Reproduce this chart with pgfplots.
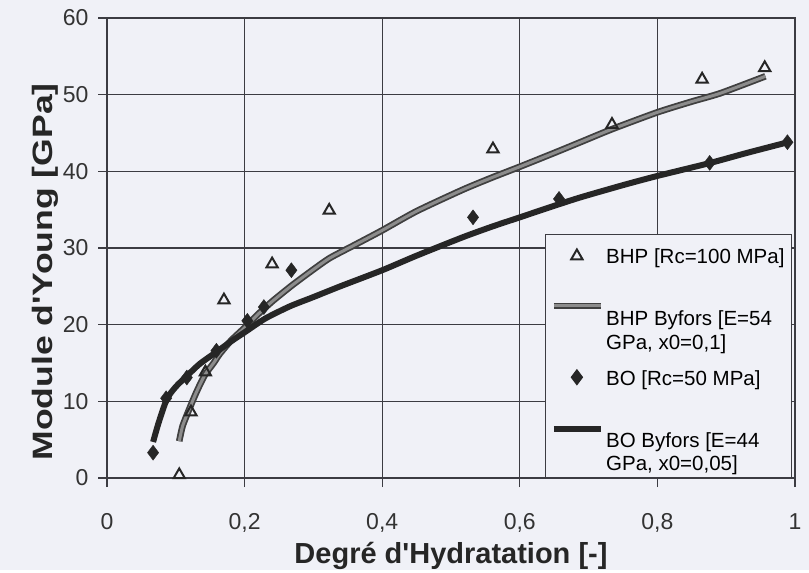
\documentclass[border=0pt]{standalone}
\usepackage{fontspec}
\setmainfont{Liberation Sans}[Ligatures=TeXOff]
\usepackage{graphicx}
\usepackage{pgfplots}
\pgfplotsset{compat=1.18}
\definecolor{bgcol}{RGB}{240,241,247}
\definecolor{gridc}{RGB}{60,60,66}
\pgfplotsset{
  bhpcurve/.style={color=black!75, line width=1.8pt, double=black!45, double distance=3pt, mark=none},
  bocurve/.style={color=black!85, line width=6pt, mark=none},
  bhpmark/.style={only marks, color=black!85, mark=triangle, mark size=6.5pt, line width=2pt, mark options={fill=bgcol, line width=2pt, solid}},
  bomark/.style={only marks, color=black!85, mark=diamond*, mark size=7.5pt, mark options={fill=black!85, solid}},
  ltri/.style={legend image code/.code={\path[draw=none,fill=none] (0pt,0pt) -- (0pt,18.5pt); \draw[##1] plot coordinates {(25pt,0pt)};}},
  ldia/.style={legend image code/.code={\path[draw=none,fill=none] (0pt,0pt) -- (0pt,24pt); \draw[##1] plot coordinates {(25pt,0pt)};}},
  lgray/.style={legend image code/.code={\path[draw=none,fill=none] (0pt,0pt) -- (0pt,50.25pt); \draw[##1] (2pt,12pt) -- (49pt,12pt);}},
  lblack/.style={legend image code/.code={\path[draw=none,fill=none] (0pt,0pt) -- (0pt,50.25pt); \draw[##1] (2pt,10pt) -- (49pt,10pt);}},
}
\begin{document}
\begin{tikzpicture}
\fill[bgcol] (-107pt,-92pt) rectangle (702pt,478pt);
\begin{axis}[
  at={(0pt,0pt)}, anchor=south west,
  scale only axis, width=688pt, height=460pt,
  xmin=0, xmax=1, ymin=0, ymax=60,
  xtick={0,0.2,0.4,0.6,0.8,1},
  xticklabels={0,{0,2},{0,4},{0,6},{0,8},1},
  ytick={0,10,20,30,40,50,60},
  yticklabels={0,10,20,30,40,50,60},
  tick pos=left, tick align=outside, major tick length=9pt,
  tick style={gridc, line width=1.3pt},
  grid=major, major grid style={gridc, line width=1.3pt},
  axis line style={gridc, line width=1.3pt},
  ticklabel style={font=\fontsize{23}{26}\selectfont, text=black!80},
  xticklabel style={yshift=-23pt},
  yticklabel style={xshift=-6pt},
  xlabel={Degré d'Hydratation [-]},
  xlabel style={font=\bfseries\fontsize{29}{32}\selectfont, text=black!85, at={(axis description cs:0.5,0)}, anchor=base, yshift=-85pt},
  ylabel={\scalebox{1.27}[1]{Module d'Young [GPa]}},
  ylabel style={font=\bfseries\fontsize{28}{32}\selectfont, text=black!85, at={(axis description cs:-0.0785,0.448)}, anchor=base},
  legend cell align=left,
  legend style={at={(axis description cs:1,0)}, anchor=south east, xshift=-3pt,
    draw=gridc, line width=1pt, fill=bgcol, inner xsep=5pt, inner ysep=3pt,
    row sep=0pt, column sep=0pt, font=\fontsize{20.5}{24}\selectfont,
    nodes={inner xsep=2pt, inner ysep=1pt, text height=18.5pt, text depth=3pt},
    cells={anchor=west}},
]
% legend
\addlegendimage{bhpmark, ltri}
\addlegendentry{BHP [Rc=100 MPa]}
\addlegendimage{bhpcurve, lgray}
\addlegendentry{BHP Byfors [E=54}
\addlegendimage{empty legend}
\addlegendentry{GPa, x0=0,1]}
\addlegendimage{bomark, ldia}
\addlegendentry{BO [Rc=50 MPa]}
\addlegendimage{bocurve, lblack}
\addlegendentry{BO Byfors [E=44}
\addlegendimage{empty legend}
\addlegendentry{GPa, x0=0,05]}

% BHP Byfors curve
\addplot[forget plot, bhpcurve, smooth, tension=0.4] coordinates {
(0.105,4.8) (0.11,6.8) (0.121,9.3) (0.13,11.2) (0.142,13.4) (0.155,15.0)
(0.164,16.2) (0.18,17.9) (0.2,19.6) (0.22,21.4) (0.241,23.1) (0.27,25.2)
(0.3,27.2) (0.324,28.7) (0.36,30.4) (0.4,32.3) (0.45,34.8) (0.517,37.6)
(0.56,39.2) (0.6,40.6) (0.65,42.4) (0.688,43.8) (0.734,45.5) (0.8,47.7)
(0.85,49.1) (0.892,50.2) (0.957,52.4)};
% BO Byfors curve
\addplot[forget plot, bocurve, smooth, tension=0.4] coordinates {
(0.067,4.7) (0.075,7.2) (0.087,10.3) (0.1,11.9) (0.116,13.3) (0.135,14.9)
(0.16,16.5) (0.18,17.8) (0.2,19.0) (0.23,20.8) (0.266,22.4) (0.3,23.6)
(0.339,25.0) (0.4,27.1) (0.45,29.0) (0.517,31.4) (0.56,32.8) (0.6,34.0)
(0.65,35.5) (0.688,36.6) (0.75,38.2) (0.8,39.4) (0.877,41.1) (0.93,42.4)
(0.99,43.8)};
% BHP data
\addplot[forget plot, bhpmark] coordinates {
(0.105,0.4) (0.122,8.6) (0.143,13.8) (0.17,23.2) (0.24,27.9) (0.323,34.9)
(0.561,42.9) (0.734,46.1) (0.865,52.0) (0.956,53.5)};
% BO data
\addplot[forget plot, bomark] coordinates {
(0.067,3.3) (0.086,10.4) (0.116,13.1) (0.159,16.6) (0.204,20.5) (0.228,22.3)
(0.268,27.1) (0.532,34.0) (0.657,36.4) (0.876,41.1) (0.989,43.8)};
\end{axis}
\end{tikzpicture}
\end{document}
